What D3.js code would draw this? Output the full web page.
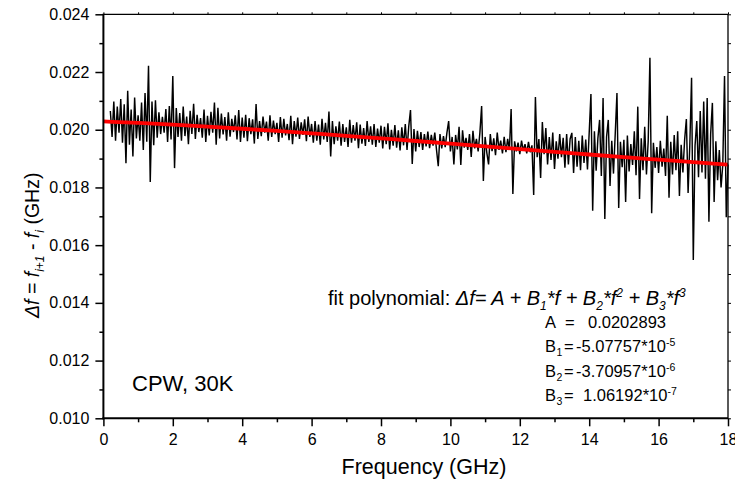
<!DOCTYPE html>
<html><head><meta charset="utf-8">
<script src="https://cdn.jsdelivr.net/npm/d3@7/dist/d3.min.js"></script>
<style>
body{margin:0;background:#fff}
svg{display:block}
text{font-family:"Liberation Sans",Arial,Helvetica,sans-serif;fill:#000}
</style>
</head><body>
<svg id="chart" width="735" height="484"></svg>
<script>
// ---------- data ----------
const freqStart = 0.2;   // GHz, first sample
const freqStep = 0.05;   // GHz, sample spacing
const deltaF = [
0.02065,0.01975,0.02098,0.01962,0.02080,0.01990,0.02106,0.01955,0.02088,0.01884,0.02135,0.01948,0.02070,0.01907,0.02112,0.01970,0.02050,
0.01962,0.02094,0.01930,0.02127,0.01958,0.02222,0.01819,0.02098,0.01946,0.02102,0.01972,0.02060,0.01985,0.02045,0.01990,0.02072,0.01958,0.02082,0.01966,0.02186,0.01867,0.02075,0.01975,
0.02058,0.01962,0.02080,0.01978,0.02046,0.01950,0.02066,0.01985,0.02090,0.01968,0.02052,0.01992,0.02040,0.01972,0.02070,0.01958,0.02048,0.01980,0.02062,0.01990,0.02094,0.01948,0.02076,0.01970,0.02056,0.01984,0.02044,0.01962,0.02060,0.01976,0.02038,0.01992,0.02050,0.01966,0.02068,0.01958,0.02042,
0.01972,0.02052,0.01960,0.02040,0.01985,0.02036,0.01952,0.02089,0.01968,0.02030,0.01978,0.02046,0.01990,0.02028,0.01962,0.02050,0.01975,0.02032,0.01985,0.02024,0.01958,0.02044,0.01972,0.02038,0.01980,0.02020,0.01964,0.02048,0.01950,0.02030,0.01976,0.02042,0.01968,0.02026,0.01982,0.02036,0.01960,0.02046,0.01975,0.02020,
0.01955,0.02030,0.01962,0.02018,0.01948,0.02038,0.01966,0.02024,0.01958,0.02063,0.01907,0.02030,0.01950,0.02012,0.01962,0.02028,0.01945,0.02020,0.01958,0.02008,0.01940,0.02034,0.01955,0.02016,0.01962,0.02026,0.01936,0.02018,0.01952,0.02006,0.01944,0.02030,0.01958,0.02012,0.01948,0.02020,0.01940,0.02004,0.01955,0.02014,
0.01935,0.02010,0.01950,0.02022,0.01932,0.02000,0.01945,0.02016,0.01938,0.01998,0.01928,0.02008,0.01946,0.02020,0.01930,0.02012,0.02068,0.01881,0.02002,0.01925,0.01996,0.01940,0.01992,0.01930,0.01985,0.01942,0.01994,0.01936,0.01982,0.01945,
0.01990,0.01930,0.01874,0.01985,0.01935,0.01978,0.01940,0.01990,0.02030,0.01925,0.01975,0.01880,0.01982,0.01932,0.02010,0.01878,0.01998,0.01938,0.01972,0.01930,0.01985,0.01906,0.01996,0.01935,0.01968,0.01925,0.01990,0.02082,0.01822,0.01975,0.01920,0.01880,0.01985,0.01926,0.01970,0.01912,0.01990,0.01930,0.01962,0.01918,0.01975,0.01922,0.01968,0.01930,0.02072,0.01777,0.01960,0.01925,0.01955,0.01915,0.01962,0.01928,0.01950,0.01918,0.01958,0.01922,0.01946,0.01774,0.02113,0.01905,0.01968,0.01833,0.02027,0.01915,0.02006,0.01880,0.01975,0.01895,0.01990,0.01864,0.01960,0.01900,0.01985,0.01905,
0.01972,0.01868,0.01985,0.01880,0.01968,0.01989,0.01850,0.01975,0.01872,0.01962,0.01860,0.01980,0.01885,0.01966,0.01862,0.01990,0.02124,0.01719,0.01995,0.01858,0.01970,0.02034,0.01840,0.02110,0.01691,0.01975,0.02034,0.01805,0.01962,0.01848,0.01985,0.02127,0.01729,0.01958,0.01870,0.01965,0.01750,0.01980,0.01855,0.01950,0.01878,0.01995,0.01842,0.02080,0.01760,0.01970,0.01860,0.02010,0.01845,0.01960,0.02249,0.01711,0.01955,0.01868,0.01940,0.01850,0.01962,0.01872,0.01935,0.01840,0.02048,0.01764,0.01958,0.01845,0.01982,0.01860,0.01995,0.01770,0.01948,0.01852,0.01965,0.02037,0.01781,0.01950,0.02180,0.01549,0.01945,0.02030,0.01835,0.02065,0.01852,0.02098,0.01830,0.02110,0.01681,0.01985,0.02093,0.01750,0.01960,0.01825,0.01930,0.01800,0.01880,0.02186,0.01697,0.01880
];
const fitFreq = [0,1,2,3,4,5,6,7,8,9,10,11,12,13,14,15,16,17,18];
const fitValues = [0.020289,0.020235,0.020175,0.020107,0.020034,0.019957,0.019874,0.019789,0.019700,0.019610,0.019516,0.019422,0.019330,0.019235,0.019142,0.019050,0.018962,0.018876,0.018792];
const xMajorTicks = [0,2,4,6,8,10,12,14,16,18];
const xMinorTicks = [1,3,5,7,9,11,13,15,17];
const yMajorTicks = [0.010,0.012,0.014,0.016,0.018,0.020,0.022,0.024];
const yMinorTicks = [0.011,0.013,0.015,0.017,0.019,0.021,0.023];
const fitParams = [
  {name:"A", sub:"", value:"0.0202893", exp:""},
  {name:"B", sub:"1", value:"-5.07757*10", exp:"-5"},
  {name:"B", sub:"2", value:"-3.70957*10", exp:"-6"},
  {name:"B", sub:"3", value:" 1.06192*10", exp:"-7"}
];

// ---------- layout ----------
const svg = d3.select("#chart");
const L = 103.4, R = 728.0, T = 14.3, B = 418.3;
const x = d3.scaleLinear().domain([0,18]).range([L,R]);
const y = d3.scaleLinear().domain([0.010,0.024]).range([B,T]);

const series = deltaF.map((v,i)=>({f: freqStart + i*freqStep, v}));

// data line
svg.append("path")
  .datum(series)
  .attr("fill","none").attr("stroke","#000").attr("stroke-width",1.45)
  .attr("stroke-linejoin","miter")
  .attr("d", d3.line().x(d=>x(d.f)).y(d=>y(d.v)));

// fit line
svg.append("path")
  .datum(fitFreq.map((f,i)=>({f, v: fitValues[i]})))
  .attr("fill","none").attr("stroke","#ff0000").attr("stroke-width",3.8)
  .attr("d", d3.line().x(d=>x(d.f)).y(d=>y(d.v)).curve(d3.curveMonotoneX));

// axes
function style(g, w){
  g.select(".domain").remove();
  g.selectAll(".tick line").attr("stroke","#000").attr("stroke-width",w);
  g.selectAll(".tick text").style("font-size","16px").attr("fill","#000");
}
svg.append("g").attr("transform",`translate(${L},0)`)
  .call(d3.axisLeft(y).tickValues(yMajorTicks).tickSize(8).tickPadding(6).tickFormat(d3.format(".3f")))
  .call(g=>style(g,1.5));
svg.append("g").attr("transform",`translate(${L},0)`)
  .call(d3.axisLeft(y).tickValues(yMinorTicks).tickSize(4).tickFormat(""))
  .call(g=>style(g,1.5));
svg.append("g").attr("transform",`translate(0,${B})`)
  .call(d3.axisBottom(x).tickValues(xMajorTicks).tickSize(8).tickPadding(7).tickFormat(d3.format("d")))
  .call(g=>style(g,1.5));
svg.append("g").attr("transform",`translate(0,${B})`)
  .call(d3.axisBottom(x).tickValues(xMinorTicks).tickSize(4).tickFormat(""))
  .call(g=>style(g,1.5));
// top & right mirror ticks (small, outward)
svg.append("g").attr("transform",`translate(0,${T})`)
  .call(d3.axisTop(x).tickValues(xMajorTicks.concat(xMinorTicks)).tickSize(2).tickFormat(""))
  .call(g=>style(g,1));
svg.append("g").attr("transform",`translate(${R},0)`)
  .call(d3.axisRight(y).tickValues(yMajorTicks.concat(yMinorTicks)).tickSize(3).tickFormat(""))
  .call(g=>style(g,1));

// frame
svg.append("line").attr("x1",L).attr("x2",R).attr("y1",T).attr("y2",T).attr("stroke","#000").attr("stroke-width",1.3);
svg.append("line").attr("x1",R).attr("x2",R).attr("y1",T).attr("y2",B).attr("stroke","#000").attr("stroke-width",1.3);
svg.append("line").attr("x1",L).attr("x2",L).attr("y1",T-0.6).attr("y2",B+1).attr("stroke","#000").attr("stroke-width",2);
svg.append("line").attr("x1",L-1).attr("x2",R).attr("y1",B).attr("y2",B).attr("stroke","#000").attr("stroke-width",2);

// x title
svg.append("text").attr("x",424).attr("y",474).attr("text-anchor","middle")
  .style("font-size","21.5px").text("Frequency (GHz)");

// y title
const yt = svg.append("text").attr("transform","translate(39,318) rotate(-90)").style("font-size","19.5px");
yt.append("tspan").style("font-style","italic").text("\u0394f");
yt.append("tspan").text(" = ");
yt.append("tspan").style("font-style","italic").text("f");
yt.append("tspan").style("font-style","italic").style("font-size","12px").attr("dy",5).text("i+1");
yt.append("tspan").attr("dy",-5).text(" - ");
yt.append("tspan").style("font-style","italic").text("f");
yt.append("tspan").style("font-style","italic").style("font-size","12px").attr("dy",5).text("i");
yt.append("tspan").attr("dy",-5).text(" (GHz)");

// fit label
const fl = svg.append("text").attr("x",328).attr("y",305).style("font-size","20px");
fl.append("tspan").text("fit polynomial: ");
const it = (t,opt={})=>{
  const s = fl.append("tspan").style("font-style","italic").text(t);
  if(opt.size) s.style("font-size",opt.size);
  if(opt.dy) s.attr("dy",opt.dy);
  return s;
};
it("\u0394f= A + B");
it("1",{size:"12px",dy:5});
it("*f + B",{dy:-5});
it("2",{size:"12px",dy:5});
it("*f",{dy:-5});
it("2",{size:"12px",dy:-8});
it(" + B",{dy:8});
it("3",{size:"12px",dy:5});
it("*f",{dy:-5});
it("3",{size:"12px",dy:-8});

// params
const pBase = 328, pStep = 24.4;
fitParams.forEach((p,i)=>{
  const t = svg.append("text").attr("y",pBase+i*pStep).style("font-size","16.5px");
  t.append("tspan").attr("x",545).text(p.name);
  if(p.sub){
    t.append("tspan").attr("x",556.5).attr("dy",4).style("font-size","10.5px").text(p.sub);
    t.append("tspan").attr("x",564).attr("dy",-4).text("=");
  } else {
    t.append("tspan").attr("x",565).text("=");
  }
  const vx = p.sub ? (p.value.startsWith(" ") ? 583 : 576) : 588;
  t.append("tspan").attr("x",vx).text(p.value.trim());
  if(p.exp){
    t.append("tspan").attr("dy",-6).style("font-size","10.5px").text(p.exp);
  }
});

// annotation
svg.append("text").attr("x",132).attr("y",391).style("font-size","22px").text("CPW, 30K");
</script>
</body></html>
